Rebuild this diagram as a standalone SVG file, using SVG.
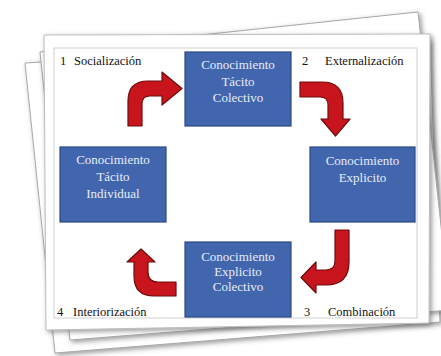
<svg xmlns="http://www.w3.org/2000/svg" width="441" height="356" viewBox="0 0 441 356">
<defs>
<filter id="sh" x="-10%" y="-10%" width="120%" height="120%">
<feDropShadow dx="2" dy="2" stdDeviation="2.5" flood-color="#555" flood-opacity="0.6"/>
</filter>
<style>
.page{fill:#fff;stroke:#a8a8a8;stroke-width:1}
.box{fill:#4266ae;stroke:#2a4a85;stroke-width:1.2}
.bt{font-size:13px;fill:#e6ebf7;text-anchor:middle}
.lb{font-size:12.5px;fill:#111}
.arr{fill:#c8141c;stroke:#6e0c0c;stroke-width:1.2;stroke-linejoin:round}
</style>
</defs>
<g id="pages">
<polygon class="page" filter="url(#sh)" points="25,63 430,40 440,322 55,353"/>
<polygon class="page" filter="url(#sh)" points="40,52 418,12 450,310 70,340"/>
<polygon class="page" filter="url(#sh)" points="44,35 430,34 429,323 46,330" style="stroke:#bdbdbd"/>
<rect x="54" y="48" width="363" height="270" fill="none" stroke="#cfcfcf" stroke-width="1"/>
</g>
<g id="connectors">
<path class="arr" d="M128,126 L128,101 Q128,81 148,81 L162,81 L162,72 L182,88.5 L162,105 L162,96 L150,96 Q142,96 142,104 L142,126 Z"/>
<path class="arr" d="M300,82 L322,82 Q343,82 343,103 L343,119 L350,119 L335.5,136 L321,119 L328,119 L328,105 Q328,97 320,97 L300,97 Z"/>
<path class="arr" d="M335,230 L349,230 L349,262 Q349,285 326,285 L316,285 L316,293 L301,277.5 L316,262 L316,270 L326,270 Q335,270 335,261 Z"/>
<path class="arr" d="M176,282 L158,282 Q148,282 148,272 L148,262 L155,262 L141,249 L127,262 L134,262 L134,276 Q134,296 154,296 L176,296 Z"/>
</g>
<g font-family="'Liberation Serif', 'DejaVu Serif', serif">
<g id="node-tacito-colectivo">
<rect class="box" x="185" y="52" width="106" height="74"/>
<text class="bt" x="238" y="69">Conocimiento</text>
<text class="bt" x="238" y="86">Tácito</text>
<text class="bt" x="238" y="102">Colectivo</text>
</g>
<g id="node-tacito-individual">
<rect class="box" x="60" y="147" width="106" height="75"/>
<text class="bt" x="113" y="164">Conocimiento</text>
<text class="bt" x="113" y="181">Tácito</text>
<text class="bt" x="113" y="198">Individual</text>
</g>
<g id="node-explicito">
<rect class="box" x="310" y="147" width="105" height="75"/>
<text class="bt" x="362.5" y="165">Conocimiento</text>
<text class="bt" x="362.5" y="182">Explicito</text>
</g>
<g id="node-explicito-colectivo">
<rect class="box" x="185" y="242" width="106" height="75"/>
<text class="bt" x="238" y="261">Conocimiento</text>
<text class="bt" x="238" y="276">Explicito</text>
<text class="bt" x="238" y="291">Colectivo</text>
</g>
<g id="labels">
<text class="lb" x="60" y="65">1</text>
<text class="lb" x="74" y="65">Socialización</text>
<text class="lb" x="302" y="65">2</text>
<text class="lb" x="325" y="65">Externalización</text>
<text class="lb" x="304" y="316">3</text>
<text class="lb" x="328" y="316">Combinación</text>
<text class="lb" x="57" y="316">4</text>
<text class="lb" x="73" y="316">Interiorización</text>
</g>
</g>
</svg>
